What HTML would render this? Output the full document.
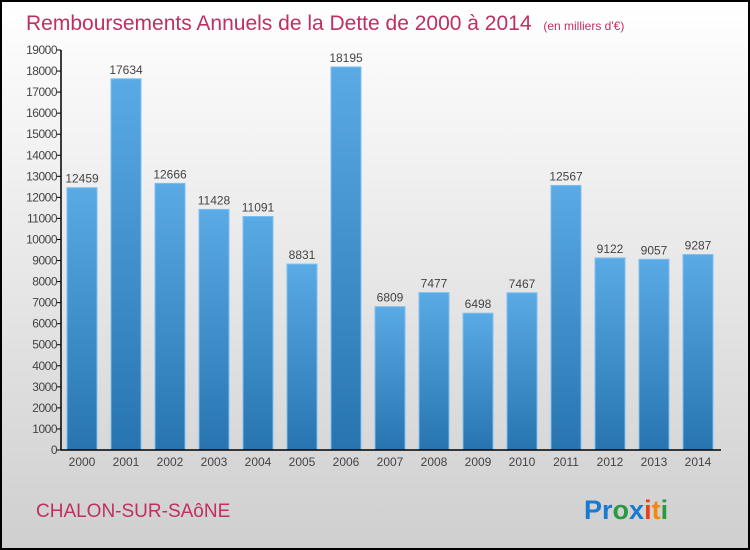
<!DOCTYPE html>
<html><head><meta charset="utf-8"><style>
body{margin:0}
#c{position:relative;width:746px;height:546px;border:2px solid #000;background:linear-gradient(#ffffff,#cfcfcf);overflow:hidden;font-family:"Liberation Sans",sans-serif}
</style></head><body>
<div id="c">
<svg id="s" width="746" height="546" style="position:absolute;left:0;top:0">
<defs><linearGradient id="g" x1="0" y1="0" x2="0" y2="1"><stop offset="0" stop-color="#5aaae6"/><stop offset="1" stop-color="#2774b0"/></linearGradient></defs>
<text x="24" y="28" font-size="21" fill="#c0305e">Remboursements Annuels de la Dette de 2000 à 2014 <tspan font-size="12" dx="6">(en milliers d'€)</tspan></text>
<text x="34" y="515" font-size="19" fill="#c0305e">CHALON-SUR-SAôNE</text>
<text x="582" y="517" font-size="27" font-weight="bold"><tspan fill="#1a7ad0">Pr</tspan><tspan fill="#2a9a40">o</tspan><tspan fill="#1a7ad0">x</tspan><tspan fill="#e8401a">i</tspan><tspan fill="#f08a10">t</tspan><tspan fill="#2a9a40">i</tspan></text>
</svg>
</div>
<script>
const years=["2000","2001","2002","2003","2004","2005","2006","2007","2008","2009","2010","2011","2012","2013","2014"];
const values=[12459,17634,12666,11428,11091,8831,18195,6809,7477,6498,7467,12567,9122,9057,9287];
const ticks=[0,1000,2000,3000,4000,5000,6000,7000,8000,9000,10000,11000,12000,13000,14000,15000,16000,17000,18000,19000];
const NS="http://www.w3.org/2000/svg",s=document.getElementById('s');
const y0=448,yMax=19000,ph=400,x0=59,step=44;
const Y=v=>y0-v/yMax*ph, X=i=>x0+21+i*step;
function mk(t,a,txt){const e=document.createElementNS(NS,t);for(const k in a)e.setAttribute(k,a[k]);if(txt!=null)e.textContent=txt;s.appendChild(e);return e;}
values.forEach((v,i)=>{
 const r=mk('rect',{x:X(i)-15,y:Y(v),width:30,height:y0-Y(v),fill:'url(#g)',stroke:'#7cc0f0','stroke-width':1});
 
 
 const t=mk('text',{x:X(i),y:Y(v)-5,'text-anchor':'middle','font-size':12,fill:'#444'},v);
 
 
 const l=mk('text',{x:X(i),y:y0+16,'text-anchor':'middle','font-size':12,fill:'#444'},years[i]);
 
 
});
ticks.forEach(v=>{
 const tk=mk('line',{x1:x0-4,x2:x0,y1:Y(v),y2:Y(v),stroke:'#000'});
 
 
 const t=mk('text',{x:x0-4,y:Y(v)+4,'text-anchor':'end','font-size':12,fill:'#444','letter-spacing':'-0.5'},v);
 
 
});
const ya=mk('line',{x1:x0,x2:x0,y1:Y(19000),y2:y0,stroke:'#000','stroke-width':1.5});


const xa=mk('line',{x1:x0,x2:719,y1:y0,y2:y0,stroke:'#000','stroke-width':1.5});


</script>
</body></html>
